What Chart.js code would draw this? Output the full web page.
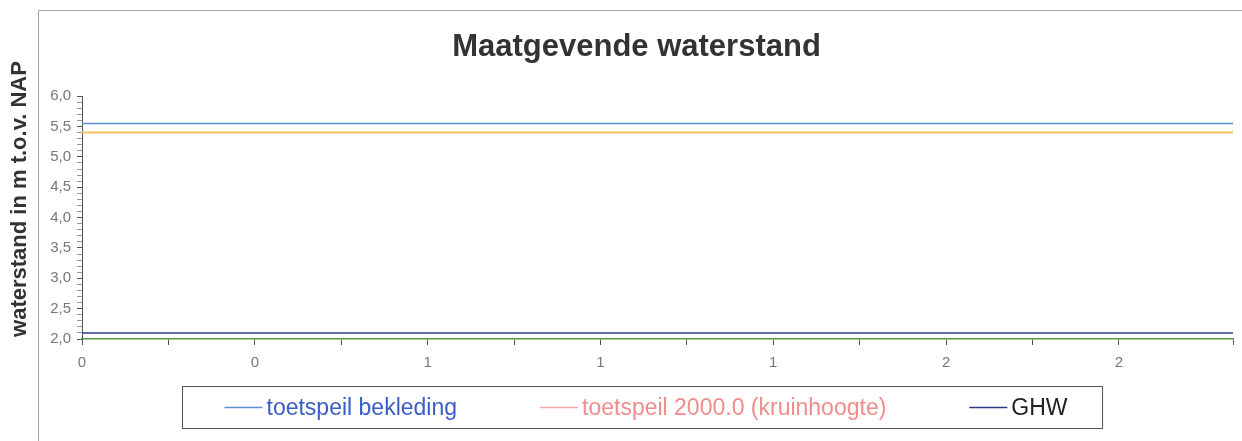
<!DOCTYPE html>
<html>
<head>
<meta charset="utf-8">
<script src="https://cdn.jsdelivr.net/npm/chart.js@4/dist/chart.umd.min.js"></script>
<style>
  html, body { margin: 0; padding: 0; background: #fff; }
  #wrap { width: 1242px; height: 441px; }
</style>
</head>
<body>
<div id="wrap"><canvas id="chart" width="1242" height="441"></canvas></div>
<script>
// x range of the horizontal lines
const xRange = [0, 2.22];
const bekleding = [5.55, 5.55];
const kruinhoogte = [5.40, 5.40];
const ghw = [2.10, 2.10];
const seriesNames = ["toetspeil bekleding", "toetspeil 2000.0 (kruinhoogte)", "GHW"];
const chartTitle = "Maatgevende waterstand";
const yTitle = "waterstand in m t.o.v. NAP";

const toPoints = (vals) => vals.map((v, i) => ({ x: xRange[i], y: v }));

const lineColors = ["#5b8fd2", "#f4c25e", "#2c3b8c"];
const legendMarkColors = ["#5b8fd2", "#f6a8a8", "#2c3b8c"];
const legendTextColors = ["#3a5cc8", "#f08c8c", "#222222"];

const framePlugin = {
    id: "frame",
    beforeDraw(chart) {
        const c = chart.ctx;
        c.save();
        c.fillStyle = "#fff";
        c.fillRect(0, 0, chart.width, chart.height);
        c.strokeStyle = "#9aa5a5";
        c.lineWidth = 1;
        c.beginPath();
        c.moveTo(38.5, chart.height);
        c.lineTo(38.5, 10.5);
        c.lineTo(chart.width, 10.5);
        c.stroke();
        c.restore();
    },
    afterDraw(chart) {
        const c = chart.ctx;
        c.save();
        // y axis title
        c.translate(20, 199);
        c.rotate(-Math.PI / 2);
        c.font = "bold 22px 'Liberation Sans', Arial, sans-serif";
        c.fillStyle = "#333";
        c.textAlign = "center";
        c.textBaseline = "middle";
        c.fillText(yTitle, 0, 0);
        c.restore();

        // legend
        c.save();
        c.font = "23px 'Liberation Sans', Arial, sans-serif";
        const mark = 38, gapText = 4, gapItem = 83;
        const widths = seriesNames.map(t => mark + gapText + c.measureText(t).width);
        const content = widths.reduce((a, b) => a + b, 0) + gapItem * (seriesNames.length - 1);
        const boxW = content + 42 + 35;
        const boxL = Math.round(642 - boxW / 2) + 0.5;
        const boxT = 386.5, boxH = 42;
        c.strokeStyle = "#555";
        c.lineWidth = 1;
        c.strokeRect(boxL, boxT, boxW, boxH);
        let x = boxL + 42;
        const yMid = boxT + boxH / 2;
        c.textBaseline = "middle";
        seriesNames.forEach((t, i) => {
            c.strokeStyle = legendMarkColors[i];
            c.lineWidth = 1.5;
            c.beginPath();
            c.moveTo(x, yMid);
            c.lineTo(x + mark, yMid);
            c.stroke();
            c.fillStyle = legendTextColors[i];
            c.fillText(t, x + mark + gapText, yMid + 1);
            x += widths[i] + gapItem;
        });
        c.restore();
    }
};

const ctx = document.getElementById("chart").getContext("2d");
new Chart(ctx, {
    type: "line",
    data: {
        datasets: [
            { label: seriesNames[0], data: toPoints(bekleding), borderColor: lineColors[0], borderWidth: 1.5 },
            { label: seriesNames[1], data: toPoints(kruinhoogte), borderColor: lineColors[1], borderWidth: 2 },
            { label: seriesNames[2], data: toPoints(ghw), borderColor: lineColors[2], borderWidth: 1.5 },
        ],
    },
    options: {
        responsive: false,
        animation: false,
        elements: { point: { radius: 0 } },
        layout: { padding: { left: 38, right: 7, top: 0, bottom: 60 } },
        plugins: {
            legend: { display: false },
            tooltip: { enabled: false },
            title: {
                display: true,
                text: chartTitle,
                color: "#333",
                font: { family: "'Liberation Sans', Arial, sans-serif", size: 31, weight: "bold" },
                padding: { top: 29, bottom: 30 },
            },
        },
        scales: {
            x: {
                type: "linear",
                min: 0,
                max: 2.22,
                border: { color: "#4f9a3c", width: 1.5 },
                grid: { drawOnChartArea: false, tickLength: 6, tickColor: "#555" },
                ticks: {
                    stepSize: 1 / 6,
                    autoSkip: false,
                    maxRotation: 0,
                    padding: 9,
                    color: "#777",
                    font: { family: "'Liberation Sans', Arial, sans-serif", size: 15 },
                    callback: (v) => Math.abs(v * 3 - Math.round(v * 3)) < 1e-6 ? String(Math.round(v)) : "",
                },
            },
            y: {
                min: 2,
                max: 6,
                afterFit: (s) => { s.width = 44; },
                border: { color: "#555", width: 1 },
                grid: {
                    drawOnChartArea: false,
                    tickLength: 5,
                    tickColor: (c) => Math.round(c.tick.value * 10) % 5 === 0 ? "#555" : "#999",
                },
                ticks: {
                    stepSize: 0.1,
                    autoSkip: false,
                    padding: 6,
                    color: "#777",
                    font: { family: "'Liberation Sans', Arial, sans-serif", size: 15 },
                    callback: (v) => Math.round(v * 10) % 5 === 0 ? v.toFixed(1).replace(".", ",") : "",
                },
            },
        },
    },
    plugins: [framePlugin],
});
</script>
</body>
</html>
